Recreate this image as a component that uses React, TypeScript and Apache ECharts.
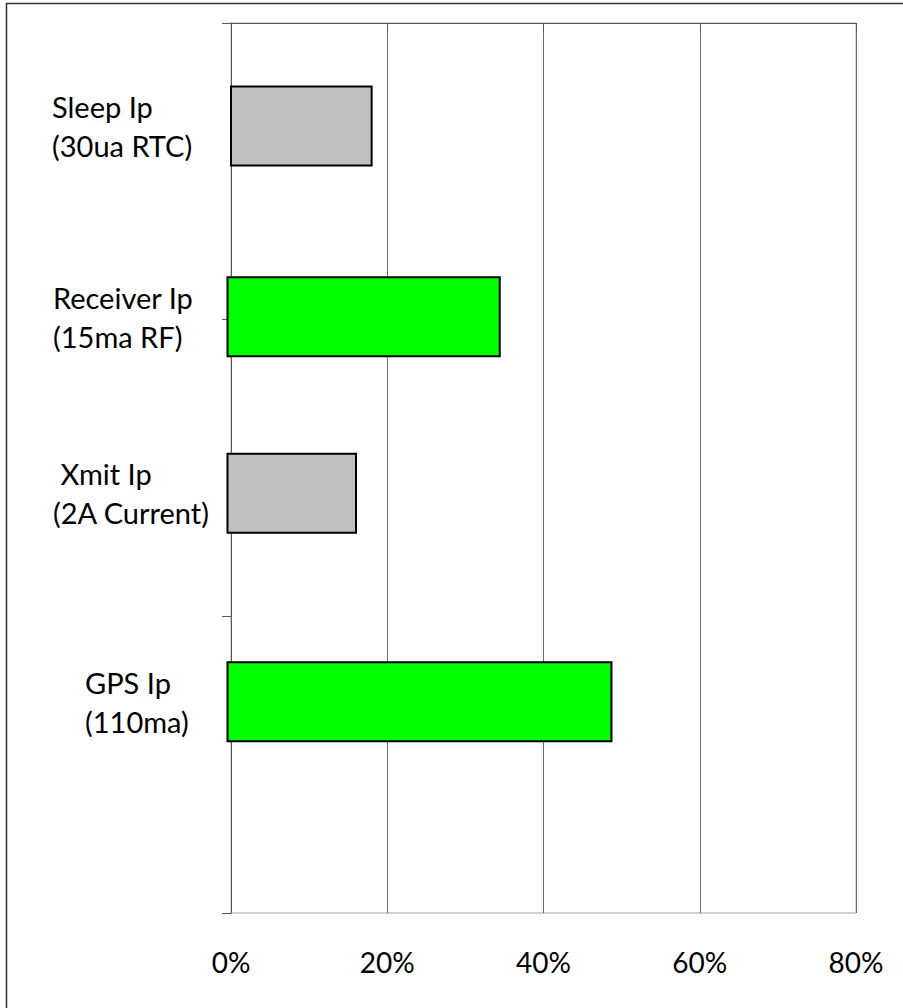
import React, { useEffect, useRef } from "react";
import * as echarts from "echarts";

// Share of the energy budget per operating state (percent)
const categories = ["Sleep Ip\n(30ua RTC)", "Receiver Ip\n(15ma RF)", " Xmit Ip\n(2A Current)", "GPS Ip\n(110ma)"];
const barStart = [0, -0.45, -0.45, -0.45];
const barEnd = [18.0, 34.4, 16.0, 48.7];
// Row of each bar on the vertical scale (0 = top, 3 = bottom)
const rowPosition = [0.347, 0.99, 1.585, 2.288];
const xTicks = [0, 20, 40, 60, 80];

const FONT = "Lato, 'Open Sans', sans-serif";
const BAR_H = 79;
const fills = ["#c0c0c0", "#00ff00", "#c0c0c0", "#00ff00"];
const labelLeft = [52, 53, 53, 85];

export default function App() {
  const ref = useRef<HTMLDivElement>(null);

  useEffect(() => {
    if (!ref.current) return;
    const chart = echarts.init(ref.current, undefined, { renderer: "svg" });
    const data = categories.map((_, i) => [barStart[i], barEnd[i], rowPosition[i]]);

    chart.setOption({
      animation: false,
      backgroundColor: "#ffffff",
      grid: {
        left: 231,
        top: 23,
        width: 625,
        height: 890,
        show: true,
        borderColor: "#a6a6a6",
        borderWidth: 1,
        backgroundColor: "transparent",
      },
      xAxis: {
        type: "value",
        min: xTicks[0],
        max: xTicks[xTicks.length - 1],
        interval: xTicks[1] - xTicks[0],
        axisLine: { show: true, lineStyle: { color: "#595959", width: 1 } },
        axisTick: { show: true, inside: false, length: 10, lineStyle: { color: "#595959" } },
        axisLabel: {
          show: true,
          formatter: "{value}%",
          color: "#000",
          fontFamily: FONT,
          fontSize: 28,
          margin: 35,
        },
        splitLine: { show: true, lineStyle: { color: "#6f6f6f", width: 1 } },
      },
      yAxis: {
        type: "value",
        min: 0,
        max: 3,
        interval: 1,
        inverse: true,
        axisLine: { show: true, onZero: false, lineStyle: { color: "#595959", width: 1 } },
        axisTick: { show: true, inside: false, length: 9, lineStyle: { color: "#595959" } },
        axisLabel: { show: false },
        splitLine: { show: false },
      },
      graphic: [
        {
          type: "polyline",
          shape: { points: [[6.5, 1010], [6.5, 3.5], [905, 3.5]] },
          style: { stroke: "#333", lineWidth: 1.5, fill: "none" },
          z: 10,
        },
      ],
      series: [
        {
          type: "custom",
          encode: { x: [0, 1], y: 2 },
          data,
          clip: false,
          renderItem: (params: any, api: any) => {
            const i = params.dataIndex;
            const p0 = api.coord([api.value(0), api.value(2)]);
            const p1 = api.coord([api.value(1), api.value(2)]);
            return {
              type: "group",
              children: [
                {
                  type: "rect",
                  shape: { x: p0[0], y: p0[1] - BAR_H / 2, width: p1[0] - p0[0], height: BAR_H },
                  style: { fill: fills[i], stroke: "#000", lineWidth: 2 },
                },
                {
                  type: "text",
                  style: {
                    text: categories[i],
                    x: labelLeft[i],
                    y: p0[1],
                    align: "left",
                    verticalAlign: "middle",
                    fill: "#000",
                    font: `29px ${FONT}`,
                    lineHeight: 39,
                  },
                },
              ],
            };
          },
        },
      ],
    });

    return () => chart.dispose();
  }, []);

  return (
    <div
      ref={ref}
      style={{ position: "absolute", left: 0, top: 0, width: 903, height: 1008, background: "#fff" }}
    />
  );
}
